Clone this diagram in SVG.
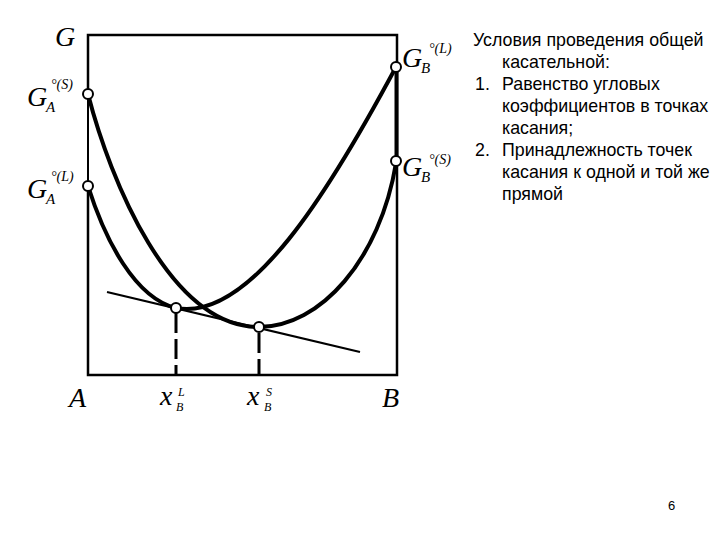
<svg xmlns="http://www.w3.org/2000/svg" width="720" height="540" viewBox="0 0 720 540">
<style>
.box{fill:none;stroke:#000;stroke-width:2.5}
.curve{fill:none;stroke:#000;stroke-width:4;stroke-linecap:round}
.tan{fill:none;stroke:#000;stroke-width:2.2}
.dash{fill:none;stroke:#000;stroke-width:3;stroke-dasharray:20,6}
.pt{fill:#fff;stroke:#000;stroke-width:2}
.m{font-family:"Liberation Serif","Times New Roman",serif;font-style:italic;fill:#000}
.big{font-size:28px}
.sub{font-size:15px}
.sup{font-size:14px}
.s2{font-size:12px}
.t{font-family:"Liberation Sans",Arial,sans-serif;font-size:17.8px;fill:#000}
</style>
<rect width="720" height="540" fill="#fff"/>
<g id="frame">
<path class="box" d="M88,94 V35 H397 V375 H88 V186"/>
<path d="M88,94 V186" fill="none" stroke="#000" stroke-width="2"/>
<path d="M396.5,67 V161" fill="none" stroke="#000" stroke-width="4"/>
</g>
<g id="connectors">
<path id="curveS" class="curve" d="M88,94 C110,180 170,327 259,327 C320,327 380,260 396,163"/>
<path id="curveL" class="curve" d="M88,186 C105,240 135,298 176,308 C250,322 330,190 396,67"/>
<line id="tangent" class="tan" x1="107" y1="292" x2="360" y2="352"/>
<line class="dash" x1="176" y1="313" x2="176" y2="375"/>
<line class="dash" x1="259" y1="333" x2="259" y2="375"/>
</g>
<g id="points">
<circle id="pGAS" class="pt" cx="88" cy="94" r="5"/>
<circle id="pGAL" class="pt" cx="88" cy="186" r="5"/>
<circle id="pGBL" class="pt" cx="396" cy="67" r="5"/>
<circle id="pGBS" class="pt" cx="396" cy="161" r="5"/>
<circle id="pXL" class="pt" cx="176" cy="308" r="5"/>
<circle id="pXS" class="pt" cx="259" cy="327" r="5"/>
</g>
<g id="labels">
<text class="m big" x="55" y="46">G</text>
<g id="lGAS"><text class="m big" x="27" y="106">G</text><text class="m sub" x="46" y="112">A</text><text class="m sup" x="51" y="89">°(S)</text></g>
<g id="lGAL"><text class="m big" x="27" y="198">G</text><text class="m sub" x="46" y="204">A</text><text class="m sup" x="51" y="181">°(L)</text></g>
<g id="lGBL"><text class="m big" x="402" y="67">G</text><text class="m sub" x="421" y="73">B</text><text class="m sup" x="429" y="53">°(L)</text></g>
<g id="lGBS"><text class="m big" x="402" y="176">G</text><text class="m sub" x="421" y="182">B</text><text class="m sup" x="429" y="164">°(S)</text></g>
<text class="m big" x="69" y="407">A</text>
<g id="lxL"><text class="m big" x="160" y="405">x</text><text class="m s2" x="176" y="411">B</text><text class="m s2" x="178" y="396">L</text></g>
<g id="lxS"><text class="m big" x="247" y="405">x</text><text class="m s2" x="264" y="411">B</text><text class="m s2" x="266" y="396">S</text></g>
<text class="m big" x="382" y="407">B</text>
</g>
<g id="notes">
<text class="t" x="473" y="46">Условия проведения общей</text>
<text class="t" x="502" y="68">касательной:</text>
<text class="t" x="475" y="90">1.</text>
<text class="t" x="502" y="90">Равенство угловых</text>
<text class="t" x="502" y="112">коэффициентов в точках</text>
<text class="t" x="502" y="134">касания;</text>
<text class="t" x="475" y="156">2.</text>
<text class="t" x="502" y="156">Принадлежность точек</text>
<text class="t" x="502" y="178">касания к одной и той же</text>
<text class="t" x="502" y="200">прямой</text>
<text class="t" x="668" y="510" style="font-size:13px">6</text>
</g>
</svg>
